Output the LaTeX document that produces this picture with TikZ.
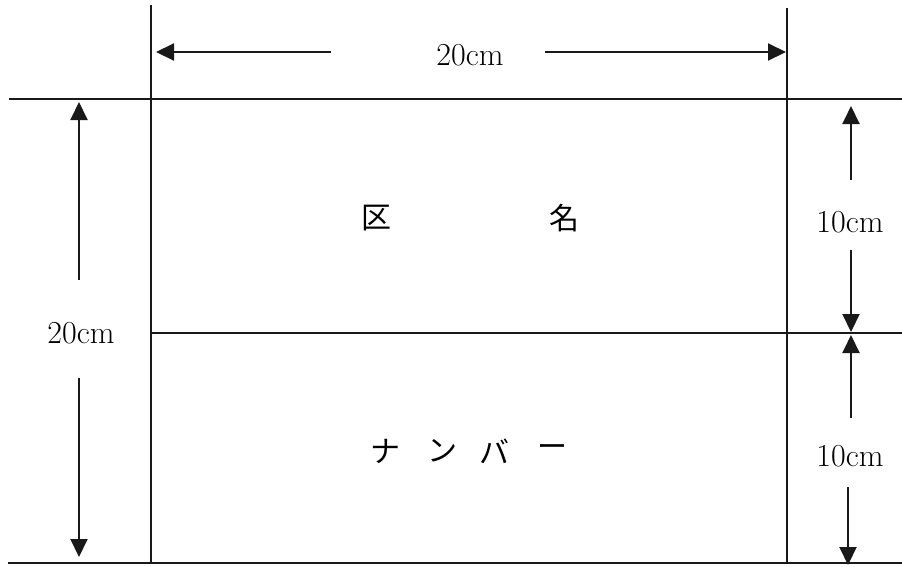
\documentclass[tikz,border=0pt]{standalone}
\usepackage{fontspec}
\newfontfamily\cjk{Noto Sans CJK JP}
\usetikzlibrary{arrows.meta}
\begin{document}
\begin{tikzpicture}[x=1pt,y=-1pt,
  frame/.style={line width=2pt, draw=black!90},
  dim/.style={line width=2pt, draw=black!90, -{Triangle[length=18pt,width=17pt]}},
  lbl/.style={font=\fontsize{32}{33}\selectfont, inner sep=0pt},
  jlbl/.style={font=\cjk\fontsize{30}{31}\selectfont, inner sep=0pt}]
\useasboundingbox (0,0) rectangle (902,566);
% frame lines
\coordinate (vl1) at (151,5);   \coordinate (vl2) at (151,563);
\coordinate (vr1) at (787,8);   \coordinate (vr2) at (787,563);
\coordinate (ht1) at (9,99);    \coordinate (ht2) at (902,99);
\coordinate (hm1) at (151,333); \coordinate (hm2) at (902,333);
\coordinate (hb1) at (8,563);   \coordinate (hb2) at (902,563);
\draw[frame] (vl1) -- (vl2);
\draw[frame] (vr1) -- (vr2);
\draw[frame] (ht1) -- (ht2);
\draw[frame] (hm1) -- (hm2);
\draw[frame] (hb1) -- (hb2);
% labels
\node[lbl] (top) at (470,55) {20cm};
\node[lbl] (left) at (81,333) {20cm};
\node[lbl] (ra) at (850,222) {10cm};
\node[lbl] (rb) at (850,456) {10cm};
\node[jlbl] (ku) at (376,218) {区};
\node[jlbl] (mei) at (564,218) {名};
\node[jlbl] (na) at (385,451) {ナ};
\node[jlbl] (n) at (442,451) {ン};
\node[jlbl] (ba) at (494,451) {バ};
\node[jlbl] (bo) at (552,451) {ー};
% dimension arrows
\coordinate (ta1) at (331,52); \coordinate (ta2) at (156,52);
\coordinate (tb1) at (545,52); \coordinate (tb2) at (786,52);
\draw[dim] (ta1) -- (ta2);
\draw[dim] (tb1) -- (tb2);
\coordinate (la1) at (79,280); \coordinate (la2) at (79,102);
\coordinate (lb1) at (79,378); \coordinate (lb2) at (79,557);
\draw[dim] (la1) -- (la2);
\draw[dim] (lb1) -- (lb2);
\coordinate (raa1) at (851,180); \coordinate (raa2) at (851,106);
\coordinate (rab1) at (851,250); \coordinate (rab2) at (851,332);
\draw[dim] (raa1) -- (raa2);
\draw[dim] (rab1) -- (rab2);
\coordinate (rba1) at (851,418); \coordinate (rba2) at (851,335);
\coordinate (rbb1) at (848,487); \coordinate (rbb2) at (848,565);
\draw[dim] (rba1) -- (rba2);
\draw[dim] (rbb1) -- (rbb2);
\end{tikzpicture}
\end{document}
